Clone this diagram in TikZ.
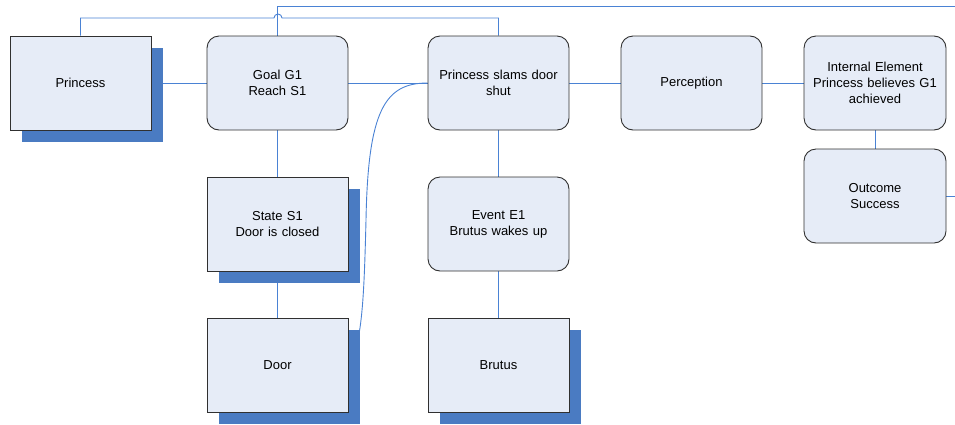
\documentclass[tikz,border=0pt]{standalone}
\usepackage{fontspec}
\setmainfont{Liberation Sans}
\definecolor{boxfill}{HTML}{E6ECF7}
\definecolor{boxline}{HTML}{303030}
\definecolor{shadowblue}{HTML}{4A7BC2}
\definecolor{linkblue}{HTML}{4A82D4}
\begin{document}
\begin{tikzpicture}[x=1pt,y=-1pt,
  every node/.style={font=\fontsize{13}{16}\selectfont, align=center},
  card/.style={draw=boxline, fill=boxfill, line width=0.9pt,
    minimum width=141pt, minimum height=94pt, inner sep=2pt, text width=136pt},
  roundcard/.style={card, rounded corners=12pt},
  squarecard/.style={card},
  shade/.style={fill=shadowblue, draw=none},
  link/.style={draw=linkblue, line width=0.9pt}]
\useasboundingbox (0,0) rectangle (955,424);

% anchor points for the boxes
\coordinate (cPrincess) at (80.5,83);
\coordinate (cGoal) at (277.5,83);
\coordinate (cSlams) at (498.5,83);
\coordinate (cPerc) at (691.5,83);
\coordinate (cInt) at (875,83);
\coordinate (cOut) at (875,196);
\coordinate (cState) at (277.5,224);
\coordinate (cDoor) at (277.5,365);
\coordinate (cEvent) at (498.5,224);
\coordinate (cBrutus) at (498.5,365);

% invisible placeholders used for the connectors
\path
  node[squarecard, draw=none, fill=none] (princess) at (cPrincess) {}
  node[roundcard, draw=none, fill=none] (goal) at (cGoal) {}
  node[roundcard, draw=none, fill=none] (slams) at (cSlams) {}
  node[roundcard, draw=none, fill=none] (perc) at (cPerc) {}
  node[roundcard, draw=none, fill=none, minimum width=142pt] (internal) at (cInt) {}
  node[roundcard, draw=none, fill=none, minimum width=142pt] (outcome) at (cOut) {}
  node[squarecard, draw=none, fill=none] (state) at (cState) {}
  node[squarecard, draw=none, fill=none] (door) at (cDoor) {}
  node[roundcard, draw=none, fill=none] (event) at (cEvent) {}
  node[squarecard, draw=none, fill=none] (brutus) at (cBrutus) {};

\coordinate (topEnd) at (955,6);
\coordinate (outEnd) at (955,196);

% connectors (drawn first so shadows and boxes cover them)
\draw[link] (princess) -- (goal);
\draw[link] (goal) -- (slams);
\draw[link] (slams) -- (perc);
\draw[link] (perc) -- (internal);
\draw[link] (internal) -- (outcome);
\draw[link] (goal) -- (state);
\draw[link] (state) -- (door);
\draw[link] (slams) -- (event);
\draw[link] (event) -- (brutus);
\draw[link] (outcome.east) -- (outEnd);
\draw[link] (goal.north) |- (topEnd);
\draw[link] (princess.north) |- (274,18)
  arc[start angle=180, end angle=0, radius=4pt]
  -- (slams.north |- 0,18) -- (slams.north);
\draw[link] (door.east) .. controls (362,345) and (364,300) .. (366,220)
  .. controls (368,110) and (385,83) .. (slams.west);

% drop shadows of the square boxes
\foreach \n in {princess,state,door,brutus}{
  \fill[shade] ([shift={(12,12)}]\n.north west) rectangle ([shift={(12,12)}]\n.south east);
}

% boxes
\node[squarecard] at (cPrincess) {Princess};
\node[roundcard] at (cGoal) {Goal G1\\Reach S1};
\node[roundcard] at (cSlams) {Princess slams door\\shut};
\node[roundcard] at (cPerc) {Perception};
\node[roundcard, minimum width=142pt] at (cInt) {Internal Element\\Princess believes G1\\achieved};
\node[roundcard, minimum width=142pt] at (cOut) {Outcome\\Success};
\node[squarecard] at (cState) {State S1\\Door is closed};
\node[squarecard] at (cDoor) {Door};
\node[roundcard] at (cEvent) {Event E1\\Brutus wakes up};
\node[squarecard] at (cBrutus) {Brutus};
\end{tikzpicture}
\end{document}
